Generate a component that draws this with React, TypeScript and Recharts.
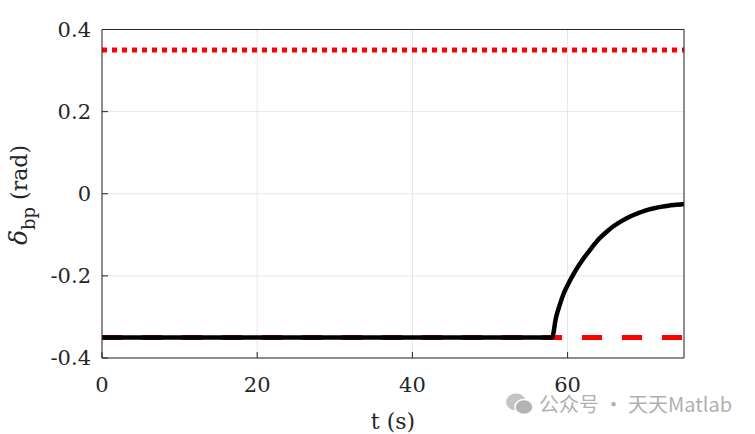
import React from 'react';
import { LineChart, Line, XAxis, YAxis, CartesianGrid } from 'recharts';

// time (s) and brake-pedal angle (rad)
const timeS = [0, 58, 58.5, 59, 59.5, 60, 61, 62, 63, 64, 65, 66, 67, 68, 69, 70, 71, 72, 73, 74, 75];
const deltaBp = [
  -0.35, -0.35, -0.302, -0.27, -0.243, -0.223, -0.188, -0.159, -0.134, -0.111, -0.093,
  -0.078, -0.066, -0.056, -0.048, -0.041, -0.036, -0.032, -0.029, -0.027, -0.025,
];
const limitTimes = [0, 75];
const upperLimit = [0.35, 0.35];
const lowerLimit = [-0.35, -0.35];

const xTicks = [0, 20, 40, 60];
const yTicks = [-0.4, -0.2, 0, 0.2, 0.4];

const data = timeS.map((t, i) => ({ t, delta: deltaBp[i] }));
const upperData = limitTimes.map((t, i) => ({ t, v: upperLimit[i] }));
const lowerData = limitTimes.map((t, i) => ({ t, v: lowerLimit[i] }));

const W = 755;
const H = 434;
const INK = '#262626';
const FONT = 'DejaVu Serif';

const tickStyle = { fill: INK, fontSize: 21, fontFamily: FONT };

const YTitle = () => {
  const cx = 27;
  const cy = 195;
  return (
    <text
      transform={`rotate(-90, ${cx}, ${cy})`}
      x={cx}
      y={cy}
      textAnchor="middle"
      fill={INK}
      fontFamily={FONT}
      fontSize={22}
    >
      <tspan fontStyle="italic" fontSize={25}>δ</tspan>
      <tspan fontSize={18} dy={8}>bp</tspan>
      <tspan dy={-8}> (rad)</tspan>
    </text>
  );
};

export default function App() {
  return (
    <div style={{ position: 'absolute', left: 0, top: 0, width: W, height: H, background: '#fff' }}>
      <LineChart
        width={W}
        height={H}
        margin={{ top: 28.5, right: 70, left: 22, bottom: 0 }}
      >
        <CartesianGrid stroke="#e6e6e6" />
        <XAxis
          dataKey="t"
          type="number"
          domain={[0, 75]}
          ticks={xTicks}
          allowDataOverflow
          height={76}
          tickSize={-6}
          tickMargin={25}
          tick={tickStyle}
          axisLine={{ stroke: INK }}
          tickLine={{ stroke: INK }}
          label={{ value: 't (s)', position: 'insideBottom', offset: 5, fill: INK, fontSize: 22, fontFamily: FONT }}
        />
        <XAxis
          xAxisId="top"
          orientation="top"
          type="number"
          domain={[0, 75]}
          ticks={xTicks}
          height={1}
          tickSize={-6}
          tick={false}
          axisLine={{ stroke: INK }}
          tickLine={{ stroke: INK }}
        />
        <YAxis
          type="number"
          domain={[-0.4, 0.4]}
          ticks={yTicks}
          width={80}
          tickSize={-6}
          tickMargin={17}
          tick={tickStyle}
          axisLine={{ stroke: INK }}
          tickLine={{ stroke: INK }}
          label={<YTitle />}
        />
        <YAxis
          yAxisId="right"
          orientation="right"
          type="number"
          domain={[-0.4, 0.4]}
          ticks={yTicks}
          width={1}
          tickSize={-6}
          tick={false}
          axisLine={{ stroke: INK }}
          tickLine={{ stroke: INK }}
        />
        <Line
          data={upperData}
          dataKey="v"
          stroke="#ff0000"
          strokeWidth={5}
          strokeDasharray="5 5"
          dot={false}
          isAnimationActive={false}
        />
        <Line
          data={lowerData}
          dataKey="v"
          stroke="#ff0000"
          strokeWidth={5}
          strokeDasharray="20 20"
          dot={false}
          isAnimationActive={false}
        />
        <Line
          data={data}
          dataKey="delta"
          type="monotone"
          stroke="#000000"
          strokeWidth={4.5}
          dot={false}
          isAnimationActive={false}
        />
      </LineChart>
      <div
        style={{
          position: 'absolute',
          left: 505,
          top: 389,
          display: 'flex',
          alignItems: 'center',
          color: '#b0b0b0',
          fontFamily: '"Noto Sans CJK SC"',
          fontSize: 20,
          whiteSpace: 'nowrap',
        }}
      >
        <svg width={30} height={24} style={{ marginRight: 4 }}>
          <ellipse cx={11} cy={10} rx={10} ry={8.5} fill="#c4c4c4" />
          <ellipse cx={19} cy={15} rx={9} ry={7.5} fill="#b4b4b4" stroke="#fff" strokeWidth={1.5} />
        </svg>
        <span>公众号 · 天天Matlab</span>
      </div>
    </div>
  );
}
